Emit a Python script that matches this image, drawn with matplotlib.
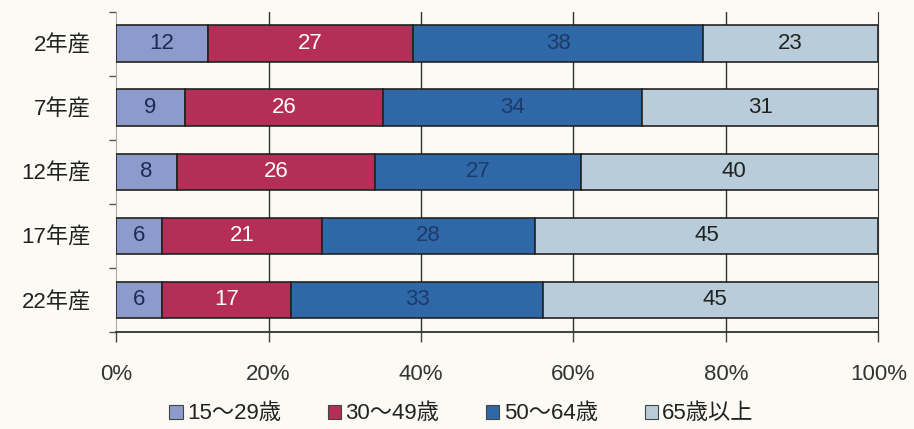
import numpy as np
import matplotlib
matplotlib.use("Agg")
import matplotlib.pyplot as plt
from matplotlib.patches import Patch

plt.rcParams['font.family'] = ['Liberation Sans', 'Noto Sans CJK JP', 'DejaVu Sans']

years = ["2年産", "7年産", "12年産", "17年産", "22年産"]
age_groups = ["15～29歳", "30～49歳", "50～64歳", "65歳以上"]
v_15_29 = [12, 9, 8, 6, 6]
v_30_49 = [27, 26, 26, 21, 17]
v_50_64 = [38, 34, 27, 28, 33]
v_65_up = [23, 31, 40, 45, 45]

colors = ["#8c9bcc", "#b42e58", "#2f68a6", "#b9ccd9"]
text_colors = ["#1d2a55", "white", "#1d3a6a", "#222222"]
bg = "#fbfaf5"

series = [v_15_29, v_30_49, v_50_64, v_65_up]

fig = plt.figure(figsize=(9.14, 4.29), dpi=100, facecolor=bg)
ax = fig.add_axes([0.127, 0.226, 0.834, 0.747], facecolor=bg)

y = np.arange(len(years))
left = np.zeros(len(years))
for vals, c, tc in zip(series, colors, text_colors):
    vals = np.array(vals, dtype=float)
    bars = ax.barh(y, vals, left=left, height=0.57, color=c,
                   edgecolor="#222222", linewidth=1.2, zorder=3)
    for b, v in zip(bars, vals):
        ax.text(b.get_x() + b.get_width() / 2, b.get_y() + b.get_height() / 2,
                str(int(v)), ha="center", va="center", fontsize=16,
                color=tc, zorder=4)
    left += vals

ax.set_xlim(0, 100)
ax.set_ylim(len(years) - 0.5, -0.5)

ax.set_xticks(np.arange(0, 101, 20))
ax.set_xticklabels([f"{t}%" for t in range(0, 101, 20)], fontsize=16, color="#333333")
ax.tick_params(axis="x", length=7, width=1, color="#444444", pad=16)

ax.set_yticks(y)
ax.set_yticklabels(years, fontsize=16, color="#222222")
ax.tick_params(axis="y", which="major", length=0, pad=18)
ax.set_yticks(np.arange(-0.5, len(years)), minor=True)
ax.tick_params(axis="y", which="minor", length=5, width=1, color="#555555")

for xv in [20, 40, 60, 80]:
    ax.axvline(xv, color="#333333", linewidth=1.0, zorder=1)

ax.spines["top"].set_visible(False)
ax.spines["right"].set_color("#333333")
ax.spines["left"].set_color("#aaaaaa")
ax.spines["left"].set_linewidth(0.8)
ax.spines["bottom"].set_color("#222222")
ax.spines["bottom"].set_linewidth(1.2)

handles = [Patch(facecolor=c, edgecolor="#444444", linewidth=0.8) for c in colors]
fig.legend(handles, age_groups, loc="center", bbox_to_anchor=(0.505, 0.035),
           ncol=4, frameon=False, fontsize=16, handlelength=0.6,
           handleheight=0.6, handletextpad=0.2, columnspacing=2.1,
           labelcolor="#222222")

fig.savefig("out.png", dpi=100, facecolor=bg)
